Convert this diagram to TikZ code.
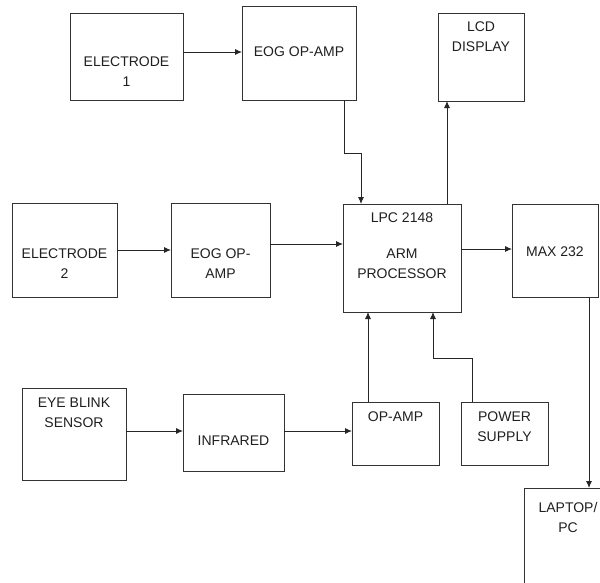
\documentclass[tikz,border=0pt]{standalone}
\usepackage{fontspec}
\setmainfont{Liberation Sans}
\usetikzlibrary{arrows.meta}
\begin{document}
\begin{tikzpicture}[x=1pt,y=-1pt,
  box/.style={draw=black!80, line width=0.9pt, inner sep=0pt, outer sep=0pt},
  lbl/.style={text=black!88, font=\fontsize{14}{20}\selectfont, align=center, inner sep=0pt},
  arr/.style={draw=black!85, line width=0.9pt, -{Latex[length=7pt,width=6pt]}},
  ln/.style={draw=black!85, line width=0.9pt}]
\useasboundingbox (0,0) rectangle (600,582);
\clip (0,0) rectangle (600,582);
% boxes
\node[box, minimum width=113pt, minimum height=87pt] (e1) at (126.5,56.5) {};
\node[box, minimum width=114pt, minimum height=94pt] (eog1) at (299,53) {};
\node[box, minimum width=86pt, minimum height=88pt] (lcd) at (481,57) {};
\node[box, minimum width=105pt, minimum height=94pt] (e2) at (64.5,250) {};
\node[box, minimum width=99pt, minimum height=94pt] (eog2) at (220.5,250) {};
\node[box, minimum width=118pt, minimum height=108pt] (lpc) at (402,258) {};
\node[box, minimum width=86pt, minimum height=93pt] (max) at (555,250.5) {};
\node[box, minimum width=104pt, minimum height=92pt] (eye) at (74,434) {};
\node[box, minimum width=101pt, minimum height=77pt] (ir) at (233.5,432.5) {};
\node[box, minimum width=87pt, minimum height=63pt] (op) at (395.5,433.5) {};
\node[box, minimum width=87pt, minimum height=63pt] (pow) at (504.5,433.5) {};
\node[box, minimum width=88pt, minimum height=112pt] (lap) at (568,544) {};
% labels
\node[lbl] (te1) at (126.5,71.5) {ELECTRODE\\1};
\node[lbl] (teog1) at (299,52) {EOG OP-AMP};
\node[lbl] (tlcd) at (481,37) {LCD\\DISPLAY};
\node[lbl] (te2) at (64.5,263.5) {ELECTRODE\\2};
\node[lbl] (teog2) at (220.5,263.5) {EOG OP-\\AMP};
\node[lbl] (tlpc1) at (402,218) {LPC 2148};
\node[lbl] (tlpc2) at (402,263.5) {ARM\\PROCESSOR};
\node[lbl] (tmax) at (555,252) {MAX 232};
\node[lbl] (teye) at (74,413) {EYE BLINK\\SENSOR};
\node[lbl] (tir) at (233.5,441) {INFRARED};
\node[lbl] (top) at (395.5,417) {OP-AMP};
\node[lbl] (tpow) at (504.5,426.5) {POWER\\SUPPLY};
\node[lbl] (tlap) at (568,517) {LAPTOP/\\PC};
% connector anchor points
\coordinate (a1) at ([yshift=4.5pt]e1.east);
\coordinate (a2) at ([xshift=45pt]eog1.south);
\coordinate (a2e) at ([xshift=-41pt]lpc.north);
\coordinate (a3) at ([xshift=45pt]lpc.north);
\coordinate (a5) at ([yshift=6pt]eog2.east);
\coordinate (a6) at ([yshift=9pt]lpc.east);
\coordinate (a7) at ([xshift=34pt]max.south);
\coordinate (a8) at ([yshift=3pt]eye.east);
\coordinate (a9) at ([yshift=1.5pt]ir.east);
\coordinate (a10) at ([xshift=-27.5pt]op.north);
\coordinate (a11) at ([xshift=-32.5pt]pow.north);
\coordinate (a11e) at ([xshift=31pt]lpc.south);
% connectors
\draw[arr] (a1) -- (a1 -| eog1.west);
\draw[arr] (a2) -- ++(0,53) -| (a2e);
\draw[arr] (a3) -- (a3 |- lcd.south);
\draw[arr] (e2.east) -- (eog2.west);
\draw[arr] (a5) -- (a5 -| lpc.west);
\draw[arr] (a6) -- (a6 -| max.west);
\draw[arr] (a7) -- (a7 |- lap.north);
\draw[arr] (a8) -- (a8 -| ir.west);
\draw[arr] (a9) -- (a9 -| op.west);
\draw[arr] (a10) -- (a10 |- lpc.south);
\draw[arr] (a11) -- ++(0,-44) -| (a11e);
\end{tikzpicture}
\end{document}
